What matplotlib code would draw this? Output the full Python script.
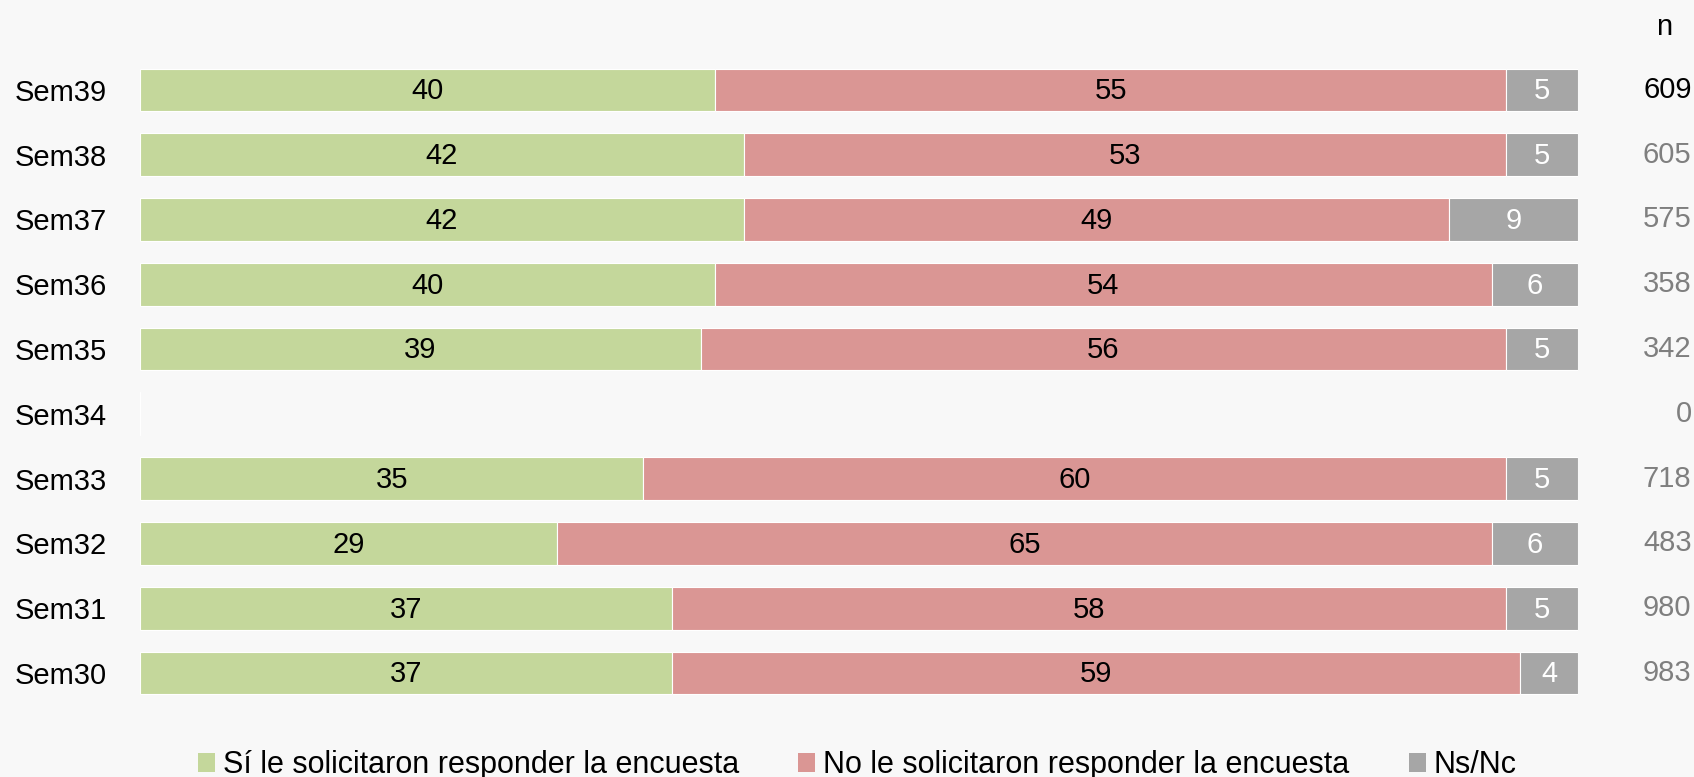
import numpy as np
import matplotlib.pyplot as plt
from matplotlib.patches import Patch
import matplotlib.transforms as mtransforms

plt.rcParams['font.family'] = ['Liberation Sans', 'DejaVu Sans']

# Datos por semana (de arriba hacia abajo)
semanas = ['Sem39', 'Sem38', 'Sem37', 'Sem36', 'Sem35', 'Sem34', 'Sem33', 'Sem32', 'Sem31', 'Sem30']
si = [40, 42, 42, 40, 39, 0, 35, 29, 37, 37]
no = [55, 53, 49, 54, 56, 0, 60, 65, 58, 59]
nsnc = [5, 5, 9, 6, 5, 0, 5, 6, 5, 4]
n = [609, 605, 575, 358, 342, 0, 718, 483, 980, 983]

categorias = ['Sí le solicitaron responder la encuesta',
              'No le solicitaron responder la encuesta',
              'Ns/Nc']
colores = ['#c4d79b', '#da9694', '#a6a6a6']
color_texto = ['black', 'black', 'white']

fs = 21

fig = plt.figure(figsize=(16.94, 7.77), dpi=100, facecolor='#f8f8f8')
ax = fig.add_axes([140 / 1694, 57 / 777, 1438 / 1694, 680 / 777])
ax.set_facecolor('none')

y = np.arange(len(semanas))[::-1]
altura = 0.66

izq = np.zeros(len(semanas))
for serie, color, ctext in zip([si, no, nsnc], colores, color_texto):
    vals = np.array(serie, dtype=float)
    ax.barh(y, vals, left=izq, height=altura, color=color, edgecolor='white', linewidth=0.8)
    for yi, l, v in zip(y, izq, vals):
        if v > 0:
            ax.text(l + v / 2, yi - 0.02, f'{int(v)}', ha='center', va='center',
                    fontsize=fs, color=ctext)
    izq += vals

ax.set_xlim(0, 100)
ax.set_ylim(-0.725, 9.77)
ax.set_yticks(y)
ax.set_yticklabels(semanas, fontsize=fs)
ax.tick_params(axis='y', length=0, pad=24)
ax.tick_params(axis='x', bottom=False, labelbottom=False)
for s in ax.spines.values():
    s.set_visible(False)

# Columna n a la derecha
trans = mtransforms.blended_transform_factory(ax.transAxes, ax.transData)
ax.text(1.06, 9.97, 'n', transform=trans, ha='center', va='center', fontsize=fs, color='black')
for i, (yi, val) in enumerate(zip(y, n)):
    ax.text(1.079, yi, str(val), transform=trans, ha='right', va='center', fontsize=fs,
            color='black' if i == 0 else '#7f7f7f', clip_on=False)

handles = [Patch(facecolor=c, edgecolor='none') for c in colores]
fig.legend(handles, categorias, loc='center', bbox_to_anchor=(0.506, 0.015), ncol=3,
           frameon=False, fontsize=22, handlelength=0.55, handleheight=0.55,
           handletextpad=0.25, columnspacing=1.95)

fig.savefig('out.png', dpi=100, facecolor=fig.get_facecolor())
